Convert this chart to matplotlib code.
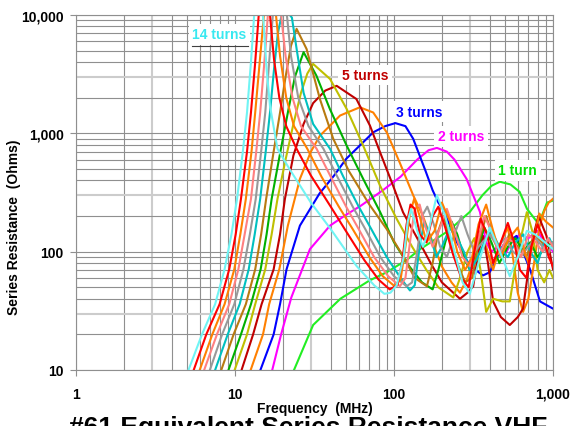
import matplotlib
matplotlib.use('Agg')
import matplotlib.pyplot as plt
from matplotlib.lines import Line2D
from matplotlib.ticker import NullLocator

plt.rcParams['font.family'] = ['Liberation Sans', 'DejaVu Sans']
plt.rcParams['font.weight'] = 'bold'

# ---- data (MHz, Ohms) ----
freq1 = [23.5, 31, 46, 70, 90, 120, 146, 220, 300, 360, 410, 463, 540, 617, 686, 790, 850, 917, 1000]
res1 = [10, 24, 40, 57, 67, 85, 105, 150, 217, 300, 360, 390, 370, 320, 230, 180, 200, 260, 270]

freq2 = [17.15, 19.5, 22.6, 29.6, 39.6, 50, 62, 85, 110, 140, 165, 186, 215, 240, 286, 347, 380, 410,
         450, 500, 550, 620, 700, 800, 880, 950, 1000]
res2 = [10, 20, 41, 105, 166, 205, 245, 330, 430, 600, 720, 753, 700, 600, 412, 217, 120, 100,
        110, 95, 120, 140, 130, 150, 120, 110, 100]

freq3 = [14.45, 17.5, 19.2, 21.1, 25.6, 28.5, 34, 42, 50, 64, 74, 88, 102, 118, 132, 158, 175, 190,
         203, 248, 300, 363, 400, 485, 590, 717, 828, 1000]
res3 = [10, 20, 36, 71, 166, 210, 310, 440, 608, 841, 1020, 1150, 1220, 1150, 900, 480, 330, 260,
        230, 121, 76, 63, 67, 113, 136, 71, 38, 33]

freq4 = [12.55, 15.0, 16.4, 19.0, 21.5, 25.6, 30, 34.2, 45.8, 61, 74, 90, 109, 132, 152, 175, 200,
         230, 260, 290, 320, 350, 380, 420, 470, 520, 560, 600, 648, 700, 760, 820, 880, 940, 1000]
res4 = [10, 20, 36, 71, 166, 412, 700, 955, 1414, 1660, 1500, 1020, 560, 300, 200, 120, 75,
        55, 45, 60, 90, 150, 110, 70, 120, 160, 90, 45, 31, 40, 80, 160, 220, 260, 280]

freq5 = [11.0, 13.0, 14.7, 17.5, 19.2, 20.6, 23.3, 27, 31, 37, 43.6, 58, 70.6, 81.7, 98.7, 114, 140,
         170, 200, 260, 290, 315, 340, 363, 390, 420, 470, 535, 600, 648, 700, 752, 810, 910, 1000]
res5 = [10, 20, 36, 71, 140, 279, 650, 1200, 1800, 2300, 2520, 1950, 1162, 692, 361, 215, 130,
        80, 55, 40, 45, 51, 100, 136, 80, 38, 28, 24, 28, 33, 70, 136, 201, 136, 71]

freq6 = [9.95, 11.9, 13.4, 15.5, 17.0, 18.5, 20.8, 23.3, 26, 28.5, 31, 39.6, 50.4, 64, 81.7, 104, 130,
         160, 190, 236, 260, 290, 320, 350, 380, 420, 480, 535, 600, 685, 740, 800, 880, 950, 1000]
res6 = [10, 20, 36, 71, 140, 279, 600, 1200, 2200, 3200, 3860, 2880, 1607, 787, 361, 189, 110,
        70, 50, 41, 60, 100, 130, 70, 31, 40, 38, 38, 100, 216, 150, 70, 55, 70, 60]

freq7 = [9.1, 10.9, 12.6, 14.5, 15.8, 17.0, 19.3, 21.5, 23.8, 27, 32.5, 39.5, 50.4, 64, 81.7, 100, 125,
         150, 175, 190, 210, 230, 250, 275, 300, 330, 370, 410, 460, 520, 580, 650, 720, 800, 900, 1000]
res7 = [10, 20, 36, 71, 140, 279, 700, 1500, 3000, 4850, 3075, 1607, 787, 412, 217, 120, 75,
        55, 48, 70, 120, 180, 140, 90, 70, 100, 160, 120, 80, 110, 130, 100, 120, 90, 110, 120]

freq8 = [8.2, 9.8, 11.7, 13.4, 14.6, 15.7, 17.5, 19.2, 20.8, 22.5, 24.4, 28.2, 34.2, 41.5, 52, 70, 90,
         115, 135, 161, 175, 190, 205, 225, 250, 280, 310, 340, 380, 420, 470, 530, 600, 680, 760,
         850, 930, 1000]
res8 = [10, 20, 36, 71, 140, 279, 700, 1500, 3000, 5500, 7640, 5160, 1950, 898, 480, 250, 155,
        90, 60, 51, 80, 150, 200, 130, 80, 55, 60, 120, 200, 130, 90, 140, 110, 90, 140,
        120, 100, 115]

freq9 = [7.5, 9.0, 10.7, 12.2, 13.3, 14.4, 15.6, 16.6, 17.6, 18.6, 19.8, 21.5, 22.8, 24.5, 27, 31,
         39.6, 48, 60, 72, 90, 110, 126, 135, 145, 155, 170, 185, 200, 225, 250, 275, 300, 330, 370,
         410, 460, 520, 580, 650, 720, 800, 880, 950, 1000]
res9 = [10, 20, 36, 71, 140, 279, 700, 1500, 3500, 7000, 10500, 10500, 9500, 5000, 2200, 1200,
        740, 430, 240, 155, 90, 60, 47, 52, 110, 180, 130, 90, 110, 160, 130, 100, 70, 85, 120,
        150, 110, 90, 120, 140, 100, 80, 120, 130, 110]

freq10 = [6.95, 8.3, 9.9, 11.3, 12.4, 13.5, 14.6, 15.5, 16.4, 17.3, 18.3, 19.6, 21.2, 22.5, 25, 29,
          36, 44, 55, 66, 82, 100, 120, 130, 140, 150, 162, 178, 195, 215, 240, 265, 290, 320, 360,
          400, 450, 500, 560, 620, 700, 780, 860, 930, 1000]
res10 = [10, 20, 36, 71, 140, 279, 700, 1500, 4000, 10000, 13500, 12500, 10000, 4500, 2000, 1150,
         740, 430, 240, 155, 90, 62, 51, 55, 100, 200, 240, 170, 110, 90, 140, 200, 140, 100, 120,
         140, 110, 130, 100, 90, 110, 130, 110, 95, 120]

freq11 = [6.4, 7.7, 9.2, 10.5, 11.5, 12.6, 13.6, 14.4, 15.3, 16.1, 17.0, 18.2, 19.5, 20.8, 23, 26,
          32.6, 40, 50, 60, 75, 92, 109, 118, 126, 135, 145, 158, 175, 195, 215, 240, 270, 300, 330,
          370, 410, 460, 510, 570, 630, 700, 780, 860, 930, 1000]
res11 = [10, 20, 36, 71, 140, 279, 700, 1500, 4000, 10000, 14000, 12500, 10000, 4500, 2000, 1150,
         740, 430, 240, 155, 90, 62, 51, 60, 120, 230, 250, 160, 110, 160, 230, 150, 90, 75, 110,
         200, 150, 95, 130, 120, 90, 140, 120, 100, 130, 110]

freq12 = [6.0, 7.2, 8.6, 9.9, 10.8, 11.7, 12.7, 13.4, 14.3, 15.2, 16.2, 17.2, 18.1, 19.2, 21, 23.5,
          28.5, 35, 45, 55, 70, 85, 101, 110, 118, 126, 134, 145, 160, 180, 200, 225, 250, 280, 310,
          340, 380, 420, 470, 530, 600, 650, 700, 760, 820, 900, 1000]
res12 = [10, 20, 36, 71, 140, 279, 700, 1500, 4000, 10000, 15000, 13000, 10000, 4500, 2000, 1150,
         740, 430, 240, 155, 90, 62, 51, 58, 110, 210, 280, 200, 120, 150, 260, 180, 100, 70, 90,
         170, 250, 150, 90, 130, 160, 110, 80, 130, 210, 180, 160]

freq13 = [5.5, 6.6, 8.0, 9.2, 10.1, 10.9, 11.9, 12.6, 13.4, 14.1, 14.8, 15.6, 16.6, 17.6, 19.0, 21.0,
          24.4, 30, 40, 49, 65, 80, 94, 105, 113, 120, 127, 135, 145, 160, 175, 190, 210, 235, 265,
          295, 320, 350, 385, 420, 470, 520, 570, 620, 680, 730, 800, 870, 940, 1000]
res13 = [10, 20, 36, 71, 140, 279, 700, 1500, 4000, 10000, 16000, 14000, 10000, 4200, 2000, 1150,
         740, 440, 240, 155, 85, 58, 48, 52, 85, 170, 250, 230, 140, 120, 200, 240, 160, 95, 60,
         50, 100, 190, 140, 80, 120, 175, 120, 70, 60, 110, 170, 130, 90, 75]

freq14 = [5.1, 6.2, 7.5, 8.6, 9.5, 10.3, 11.2, 11.9, 12.6, 13.2, 13.8, 14.4, 15.0, 15.8, 16.6, 18.5,
          22, 30, 40, 58, 75, 87, 95, 104, 115, 122, 128, 140, 152, 165, 186, 210, 240, 270, 300,
          340, 400, 450, 535, 600, 685, 770, 870, 1000]
res14 = [10, 20, 36, 71, 140, 279, 700, 1500, 4000, 10000, 17000, 14000, 10000, 3500, 1700, 740,
         500, 260, 155, 76, 52, 44, 45, 52, 90, 180, 230, 150, 110, 150, 300, 200, 100, 55, 44,
         80, 160, 110, 62, 90, 150, 140, 123, 105]

series = [
    (freq1, res1, '#22ee22'), (freq2, res2, '#ff00ff'), (freq3, res3, '#0000ff'),
    (freq4, res4, '#ff8000'), (freq5, res5, '#c00000'), (freq6, res6, '#bfbf00'),
    (freq7, res7, '#00b000'), (freq8, res8, '#b87a10'), (freq9, res9, '#00c0c0'),
    (freq10, res10, '#999999'), (freq11, res11, '#ff8080'), (freq12, res12, '#ff8000'),
    (freq13, res13, '#ff0000'), (freq14, res14, '#70f4f4'),
]

x_ticks = [1, 10, 100, 1000]
x_labels = ['1', '10', '100', '1,000']
y_ticks = [10, 100, 1000, 10000]
y_labels = ['10', '100', '1,000', '10,000']

fig = plt.figure(figsize=(5.71, 4.27), dpi=100)
ax = fig.add_axes([76 / 571, 56 / 427, 477 / 571, 355 / 427])
ax.set_xscale('log')
ax.set_yscale('log')
ax.set_xlim(1, 1000)
ax.set_ylim(10, 10000)

# grid lines (the 3x lines are lighter and wider, as in the original)
for dec in [1, 10, 100]:
    for k in range(1, 10):
        if k == 3:
            ax.axvline(k * dec, color='#cccccc', lw=1.5, zorder=0)
        else:
            ax.axvline(k * dec, color='#8f8f8f', lw=0.8, zorder=0)
for dec in [10, 100, 1000]:
    for k in range(1, 10):
        if k == 3:
            ax.axhline(k * dec, color='#cccccc', lw=1.5, zorder=0)
        else:
            ax.axhline(k * dec, color='#8f8f8f', lw=0.8, zorder=0)
ax.axvline(1000, color='#8f8f8f', lw=0.8, zorder=0)
ax.axhline(10000, color='#8f8f8f', lw=0.8, zorder=0)

for f, r, c in series:
    ax.plot(f, r, color=c, lw=1.5, zorder=2)

for s in ax.spines.values():
    s.set_color('#8f8f8f')
    s.set_linewidth(0.8)

ax.set_xticks(x_ticks)
ax.set_xticklabels(x_labels)
ax.set_yticks(y_ticks)
ax.set_yticklabels(y_labels)
ax.xaxis.set_minor_locator(NullLocator())
ax.yaxis.set_minor_locator(NullLocator())
ax.tick_params(axis='both', length=4, width=0.8, color='#8f8f8f', labelsize=10)
ax.tick_params(axis='x', pad=8)
ax.tick_params(axis='y', pad=5)

ax.set_xlabel('Frequency  (MHz)', fontsize=10, fontweight='bold')
ax.set_ylabel('Series Resistance  (Ohms)', fontsize=10, fontweight='bold')
ax.xaxis.set_label_coords(0.5, -0.088)
ax.yaxis.set_label_coords(-0.115, 0.405)

# curve labels
box = dict(facecolor='white', edgecolor='none', pad=2.5)
ax.text(0.300, 0.946, '14 turns', color='#38e8f0', fontsize=10, fontweight='bold',
        ha='center', va='center', transform=ax.transAxes, bbox=box, zorder=5)
ax.text(0.606, 0.831, '5 turns', color='#c00000', fontsize=10, fontweight='bold',
        ha='center', va='center', transform=ax.transAxes, bbox=box, zorder=5)
ax.text(0.719, 0.728, '3 turns', color='#0000ff', fontsize=10, fontweight='bold',
        ha='center', va='center', transform=ax.transAxes, bbox=box, zorder=5)
ax.text(0.807, 0.658, '2 turns', color='#ff00ff', fontsize=10, fontweight='bold',
        ha='center', va='center', transform=ax.transAxes, bbox=box, zorder=5)
ax.text(0.926, 0.563, '1 turn', color='#00e000', fontsize=10, fontweight='bold',
        ha='center', va='center', transform=ax.transAxes, bbox=box, zorder=5)
fig.add_artist(Line2D([192 / 571, 248 / 571], [380 / 427, 380 / 427],
                      transform=fig.transFigure, color='#404040', lw=0.8))

# title sits at the bottom and is cut off by the image edge, as in the original
fig.text(0.539, -0.019, '#61 Equivalent Series Resistance VHF', fontsize=19,
         fontweight='bold', ha='center', va='baseline')

fig.savefig('out.png', dpi=100)
